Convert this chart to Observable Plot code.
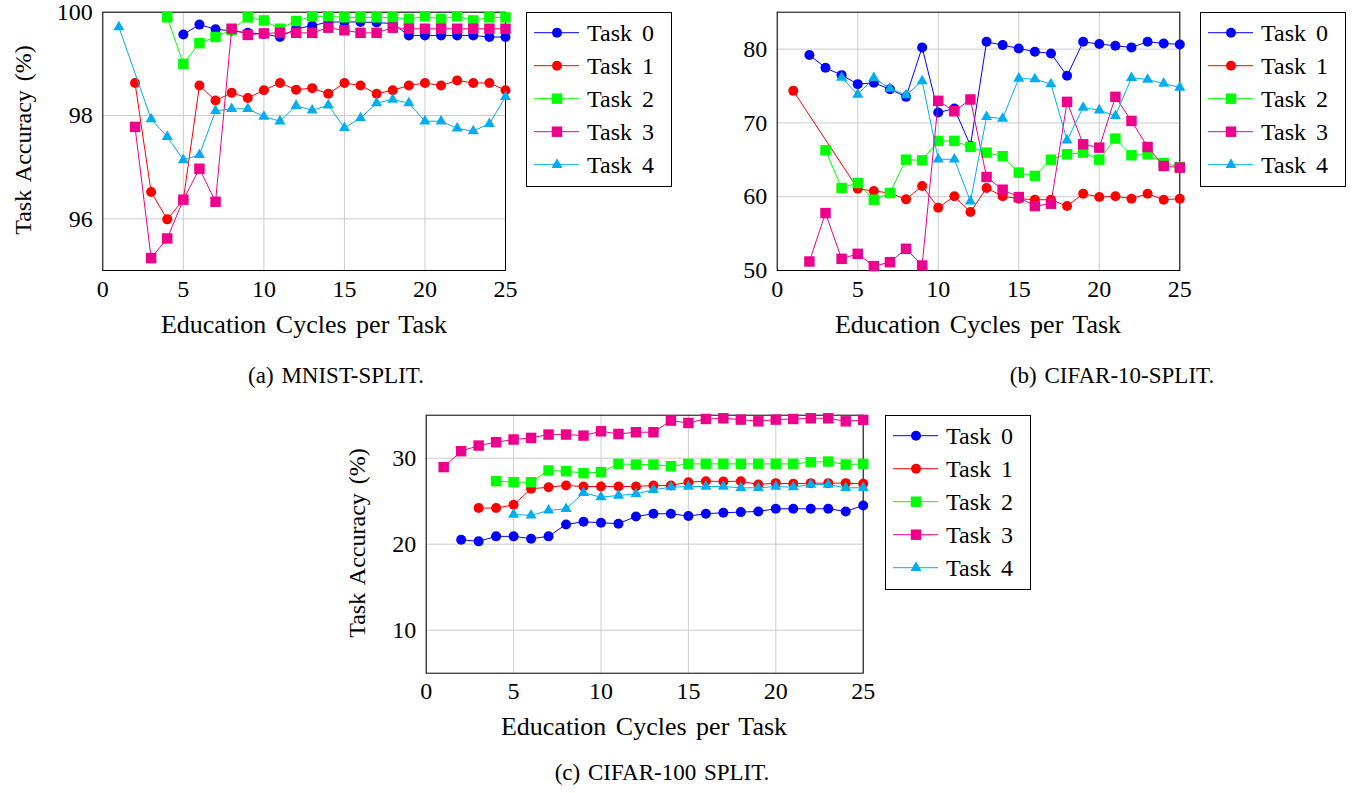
<!DOCTYPE html>
<html><head><meta charset="utf-8">
<script src="https://cdn.jsdelivr.net/npm/d3@7"></script>
<script src="https://cdn.jsdelivr.net/npm/@observablehq/plot@0.6"></script>
<style>
body{margin:0;background:#fff;}
#root{position:relative;width:1353px;height:793px;font-family:"Liberation Serif","Times New Roman",serif;color:#000;overflow:hidden;background:#fff;}
.lbl{position:absolute;white-space:nowrap;font-size:26px;transform:translate(-50%,-50%);word-spacing:3px;}
.ylbl{position:absolute;white-space:nowrap;font-size:24px;transform:translate(-50%,-50%) rotate(-90deg);word-spacing:3px;}
.cap{position:absolute;white-space:nowrap;font-size:23px;transform:translate(-50%,-50%);word-spacing:2px;}
</style></head><body><div id="root"></div>
<script>
// ---------- data ----------
const cycles = [1,2,3,4,5,6,7,8,9,10,11,12,13,14,15,16,17,18,19,20,21,22,23,24,25];
const taskNames = ["Task 0","Task 1","Task 2","Task 3","Task 4"];
const taskColors = ["#0000ff","#ff0000","#00ff00","#ec008c","#00aeef"];
const taskSymbols = ["circle","circle","square","square","triangle"];
const xTicks = [0,5,10,15,20,25];
const xDomain = [0,25];

// (a) MNIST-SPLIT
const mnistYTicks = [96,98,100];
const mnistYDomain = [95,100];
const mnist0 = [null,null,null,null,99.57,99.76,99.67,99.64,99.60,99.58,99.52,99.68,99.74,99.81,99.81,99.81,99.80,99.78,99.55,99.55,99.55,99.55,99.55,99.52,99.52];
const mnist1 = [null,98.63,96.52,95.99,96.37,98.58,98.29,98.44,98.34,98.49,98.63,98.50,98.53,98.42,98.63,98.58,98.42,98.49,98.58,98.63,98.58,98.68,98.63,98.63,98.49];
const mnist2 = [null,null,null,99.90,99.00,99.40,99.52,99.66,99.90,99.84,99.68,99.83,99.92,99.92,99.90,99.90,99.90,99.90,99.87,99.92,99.87,99.92,99.84,99.90,99.90];
const mnist3 = [null,97.78,95.24,95.62,96.37,96.97,96.33,99.68,99.56,99.59,99.60,99.60,99.60,99.70,99.65,99.60,99.60,99.70,99.68,99.68,99.68,99.68,99.68,99.68,99.68];
const mnist4 = [99.71,null,97.93,97.59,97.14,97.24,98.09,98.13,98.13,97.98,97.89,98.19,98.10,98.20,97.76,97.95,98.24,98.31,98.24,97.89,97.89,97.75,97.70,97.84,98.36];

// (b) CIFAR-10-SPLIT
const c10YTicks = [50,60,70,80];
const c10YDomain = [50,85];
const c10_0 = [null,79.19,77.47,76.47,75.25,75.43,74.57,73.53,80.23,71.40,71.95,66.90,80.99,80.54,80.09,79.64,79.41,76.38,80.99,80.68,80.45,80.23,80.99,80.77,80.63];
const c10_1 = [74.34,null,null,null,61.09,60.77,60.50,59.64,61.45,58.51,60.05,57.92,61.18,60.05,59.73,59.59,59.59,58.73,60.41,59.95,60.05,59.73,60.41,59.59,59.73];
const c10_2 = [null,null,66.29,61.18,61.86,59.59,60.50,65.02,64.93,67.56,67.56,66.74,65.97,65.48,63.26,62.81,65.02,65.75,65.97,65.02,67.87,65.61,65.75,64.57,64.03];
const c10_3 = [null,51.22,57.78,51.58,52.26,50.59,51.13,52.94,50.68,72.99,71.58,73.17,62.67,60.95,59.95,58.73,59.05,72.85,67.10,66.65,73.53,70.27,66.74,64.16,63.94];
const c10_4 = [null,null,null,76.15,73.85,76.11,74.66,73.76,75.66,65.07,65.07,59.37,70.81,70.59,76.02,75.93,75.25,67.65,72.08,71.72,70.95,76.11,75.88,75.34,74.80];

// (c) CIFAR-100 SPLIT
const c100YTicks = [10,20,30];
const c100YDomain = [5,35];
const c100_0 = [null,20.52,20.33,20.91,20.91,20.64,20.91,22.30,22.61,22.50,22.38,23.23,23.54,23.54,23.27,23.54,23.66,23.73,23.81,24.12,24.12,24.12,24.12,23.81,24.51];
const c100_1 = [null,null,24.20,24.20,24.58,26.44,26.63,26.83,26.71,26.71,26.71,26.71,26.83,26.83,27.21,27.33,27.29,27.33,26.94,27.10,27.02,27.10,27.10,27.10,27.02];
const c100_2 = [null,null,null,27.33,27.21,27.21,28.57,28.49,28.26,28.38,29.34,29.26,29.26,29.07,29.34,29.34,29.34,29.34,29.34,29.34,29.34,29.54,29.61,29.26,29.34];
const c100_3 = [28.96,30.81,31.47,31.86,32.17,32.36,32.75,32.75,32.63,33.13,32.82,33.02,33.02,34.37,34.10,34.56,34.64,34.49,34.29,34.49,34.56,34.64,34.64,34.29,34.45];
const c100_4 = [null,null,null,null,23.46,23.35,23.93,24.12,25.98,25.47,25.67,25.86,26.33,26.63,26.71,26.71,26.71,26.56,26.56,26.71,26.63,26.94,26.94,26.56,26.56];

const xLabel = "Education Cycles per Task";
const yLabel = "Task Accuracy (%)";
const captions = ["(a) MNIST-SPLIT.","(b) CIFAR-10-SPLIT.","(c) CIFAR-100 SPLIT."];

// ---------- drawing ----------
const FONT = '"Liberation Serif","Times New Roman",serif';
const symbolR = {circle:5, square:5.9, triangle:4.1};
const root = document.getElementById("root");
const fmt = d => String(d);

function panel(series, yDomain, yTicks, box){
  const marks = [
    Plot.gridX(xTicks,{stroke:"#cccccc",strokeOpacity:1,strokeWidth:1}),
    Plot.gridY(yTicks,{stroke:"#cccccc",strokeOpacity:1,strokeWidth:1}),
    Plot.frame({stroke:"#000",strokeWidth:1}),
    Plot.axisX(xTicks,{label:null,tickSize:0,tickPadding:9,tickFormat:fmt,fontSize:24,fontFamily:FONT}),
    Plot.axisY(yTicks,{label:null,tickSize:0,tickPadding:10,tickFormat:fmt,fontSize:24,fontFamily:FONT})
  ];
  series.forEach((vals,i)=>{
    const d = [];
    vals.forEach((v,j)=>{ if(v!=null) d.push({x:cycles[j], y:v}); });
    marks.push(Plot.line(d,{x:"x",y:"y",stroke:taskColors[i],strokeWidth:1}));
    marks.push(Plot.dot(d,{x:"x",y:"y",symbol:taskSymbols[i],fill:taskColors[i],stroke:"none",r:symbolR[taskSymbols[i]]}));
  });
  const svg = Plot.plot({
    width: box.w, height: box.h,
    marginLeft: box.fl - box.left, marginRight: box.left + box.w - box.fr,
    marginTop: box.ft - box.top, marginBottom: box.top + box.h - box.fb,
    x:{domain:xDomain}, y:{domain:yDomain},
    style:{fontFamily:FONT,fontSize:"24px",color:"#000",background:"transparent",overflow:"visible"},
    marks
  });
  svg.style.position="absolute";
  svg.style.left=box.left+"px";
  svg.style.top=box.top+"px";
  root.appendChild(svg);
}

function legend(left, top){
  const W=145,H=174;
  const svg = d3.create("svg").attr("width",W+2).attr("height",H+2)
    .style("position","absolute").style("left",left+"px").style("top",top+"px");
  svg.append("rect").attr("x",0.5).attr("y",0.5).attr("width",W).attr("height",H)
    .attr("fill","#fff").attr("stroke","#000").attr("stroke-width",1);
  const types = {circle:d3.symbolCircle, square:d3.symbolSquare, triangle:d3.symbolTriangle};
  taskNames.forEach((t,i)=>{
    const cy = 20.7 + i*33;
    const g = svg.append("g").attr("transform",`translate(0,${cy})`);
    g.append("line").attr("x1",8).attr("x2",53).attr("y1",0).attr("y2",0).attr("stroke",taskColors[i]).attr("stroke-width",1);
    const r = symbolR[taskSymbols[i]];
    g.append("path").attr("transform","translate(31,0)")
      .attr("d", d3.symbol(types[taskSymbols[i]], Math.PI*r*r)()).attr("fill",taskColors[i]);
    g.append("text").attr("x",61).attr("y",8).attr("font-family",FONT).attr("font-size",24)
      .attr("fill","#000").style("word-spacing","4px").text(t);
  });
  root.appendChild(svg.node());
}

function text(cls, str, x, y){
  const d = document.createElement("div");
  d.className = cls; d.textContent = str;
  d.style.left = x+"px"; d.style.top = y+"px";
  root.appendChild(d);
}

// panel (a)
panel([mnist0,mnist1,mnist2,mnist3,mnist4], mnistYDomain, mnistYTicks,
  {left:40, top:0, w:480, h:300, fl:102.3, fr:505, ft:11.7, fb:270});
legend(525.5, 12);
text("ylbl", yLabel, 23, 140);
text("lbl", xLabel, 304, 325);
text("cap", captions[0], 336, 376);

// panel (b)
panel([c10_0,c10_1,c10_2,c10_3,c10_4], c10YDomain, c10YTicks,
  {left:715, top:0, w:480, h:300, fl:776.7, fr:1179.3, ft:11.7, fb:270});
legend(1200, 12);
text("lbl", xLabel, 978, 325);
text("cap", captions[1], 1112, 376);

// panel (c)
panel([c100_0,c100_1,c100_2,c100_3,c100_4], c100YDomain, c100YTicks,
  {left:380, top:400, w:500, h:310, fl:425.7, fr:862.7, ft:414.7, fb:672.7});
legend(885, 415);
text("ylbl", yLabel, 357, 543);
text("lbl", xLabel, 644, 727);
text("cap", captions[2], 662, 773);
</script>
</body></html>
